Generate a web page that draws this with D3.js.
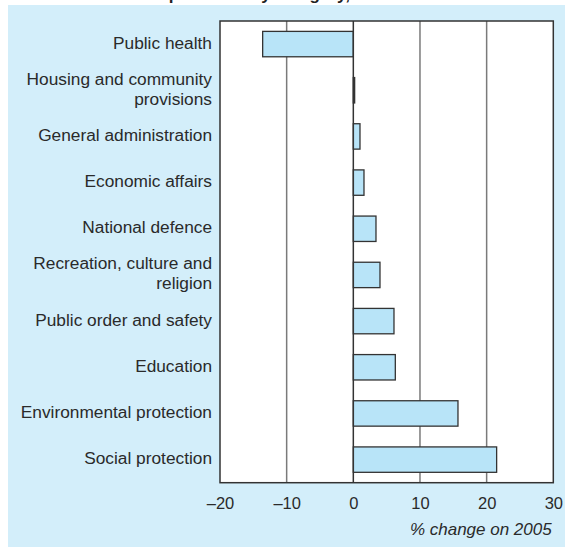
<!DOCTYPE html>
<html>
<head>
<meta charset="utf-8">
<script src="https://cdn.jsdelivr.net/npm/d3@7/dist/d3.min.js"></script>
<style>
  html, body { margin: 0; padding: 0; background: #ffffff; }
  svg { display: block; }
</style>
</head>
<body>
<svg id="chart" width="565" height="547"></svg>
<script>
const titleText = "Expenditure by category, 2006";
const categories = [
  ["Public health"],
  ["Housing and community", "provisions"],
  ["General administration"],
  ["Economic affairs"],
  ["National defence"],
  ["Recreation, culture and", "religion"],
  ["Public order and safety"],
  ["Education"],
  ["Environmental protection"],
  ["Social protection"]
];
const values = [-13.6, 0.2, 1.0, 1.6, 3.4, 4.0, 6.1, 6.3, 15.7, 21.5];
const tickValues = [-20, -10, 0, 10, 20, 30];
const axisTitle = "% change on 2005";

const svg = d3.select("#chart");
const font = "'Liberation Sans', Arial, Helvetica, sans-serif";

const plot = { left: 220, right: 553.3, top: 21, bottom: 482.7 };

svg.append("rect").attr("x", 8).attr("y", 5).attr("width", 557).attr("height", 542).attr("fill", "#d3eefa");

svg.append("text").attr("x", 148).attr("y", 0)
  .attr("font-family", font).attr("font-size", 17).attr("font-weight", "bold")
  .attr("fill", "#222").text(titleText);

const x = d3.scaleLinear().domain([-20, 30]).range([plot.left, plot.right]);
const y = d3.scaleBand().domain(d3.range(categories.length)).range([plot.top, plot.bottom]).paddingInner(0.45).paddingOuter(0.225);

svg.append("rect").attr("x", plot.left).attr("y", plot.top)
  .attr("width", plot.right - plot.left).attr("height", plot.bottom - plot.top).attr("fill", "#ffffff");

// gridlines
svg.append("g").selectAll("line").data(tickValues.filter(t => t > -20 && t < 30 && t !== 0)).join("line")
  .attr("x1", d => x(d)).attr("x2", d => x(d)).attr("y1", plot.top).attr("y2", plot.bottom)
  .attr("stroke", "#7a7a7a").attr("stroke-width", 1.5);

// bars
svg.append("g").selectAll("rect").data(values).join("rect")
  .attr("x", d => Math.min(x(0), x(d)))
  .attr("y", (d, i) => y(i))
  .attr("width", d => Math.abs(x(d) - x(0)))
  .attr("height", y.bandwidth())
  .attr("fill", "#b8e4f8").attr("stroke", "#333").attr("stroke-width", 1.3);

// zero line
svg.append("line").attr("x1", x(0)).attr("x2", x(0)).attr("y1", plot.top).attr("y2", plot.bottom)
  .attr("stroke", "#333").attr("stroke-width", 1.5);

// border
svg.append("rect").attr("x", plot.left).attr("y", plot.top)
  .attr("width", plot.right - plot.left).attr("height", plot.bottom - plot.top)
  .attr("fill", "none").attr("stroke", "#333").attr("stroke-width", 1.5);

// category labels
const lineH = 20;
const lab = svg.append("g").attr("font-family", font).attr("font-size", 17.3).attr("fill", "#2a2a2a").attr("text-anchor", "end");
categories.forEach((lines, i) => {
  const cy = y(i) + y.bandwidth() / 2;
  const n = lines.length;
  lines.forEach((ln, j) => {
    lab.append("text").attr("x", 212).attr("y", cy + 4.5 + (j - (n - 1) / 2) * lineH).text(ln);
  });
});

// x axis
const axis = d3.axisBottom(x).tickValues(tickValues).tickSize(0).tickPadding(0)
  .tickFormat(d => d < 0 ? "\u2013" + Math.abs(d) : String(d));
const ag = svg.append("g").attr("transform", `translate(0,${plot.bottom})`).call(axis);
ag.select(".domain").remove();
ag.selectAll("text").attr("font-family", font).attr("font-size", 16.5).attr("fill", "#2a2a2a")
  .attr("dy", null).attr("y", 26.5);

svg.append("text").attr("x", 551.7).attr("y", 535)
  .attr("text-anchor", "end").attr("font-family", font).attr("font-size", 17)
  .attr("font-style", "italic").attr("fill", "#2a2a2a").text(axisTitle);
</script>
</body>
</html>
